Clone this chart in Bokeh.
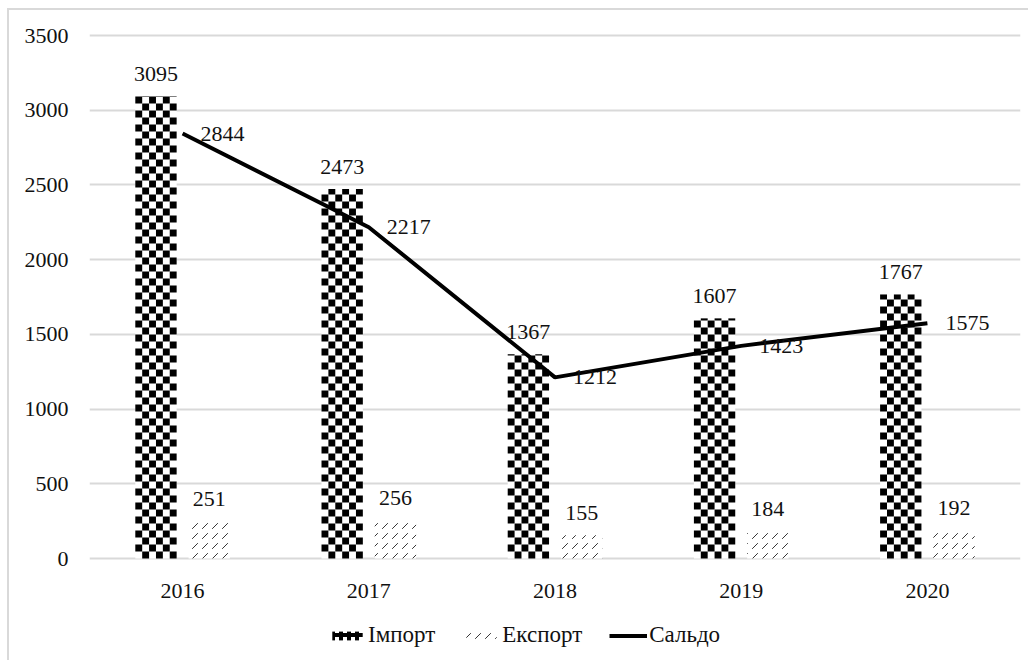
import math
from bokeh.plotting import figure
from bokeh.models import (ColumnDataSource, FactorRange, Range1d, Legend, LegendItem,
                          LabelSet, FixedTicker)
from bokeh.transform import dodge
from bokeh.core.properties import value
from bokeh.embed import file_html
from bokeh.resources import INLINE

years = ["2016", "2017", "2018", "2019", "2020"]
imports = [3095, 2473, 1367, 1607, 1767]
exports = [251, 256, 155, 184, 192]
saldo = [2844, 2217, 1212, 1423, 1575]
y_ticks = [0, 500, 1000, 1500, 2000, 2500, 3000, 3500]
series_names = ["Імпорт", "Експорт", "Сальдо"]

FONT = "Liberation Serif"
TXT = "#111111"
GRID = "#d9d9d9"

# layout (figure pixels)
W, H = 1021, 652
FL, FR, FT = 80, 1011, 23          # frame left / right / top
Y0_PX, Y3500_PX = 548, 25          # pixel rows of y=0 and y=3500
S = (Y0_PX - Y3500_PX) / 3500.0    # px per unit
y_end = 3500 + (Y3500_PX - FT) / S
y_start = -(H - Y0_PX) / S

src = ColumnDataSource(dict(
    year=years, imp=imports, exp=exports, sal=saldo,
    zero=[0] * len(years),
    imp_t=[str(v) for v in imports],
    exp_t=[str(v) for v in exports],
    sal_t=[str(v) for v in saldo],
))

p = figure(
    x_range=FactorRange(*years, range_padding=0),
    y_range=Range1d(y_start, y_end),
    width=W, height=H,
    output_backend="svg", toolbar_location=None,
    min_border_left=FL, min_border_right=W - FR, min_border_top=FT, min_border_bottom=0,
)
p.outline_line_color = None
p.styles = {"margin-left": "7px", "margin-top": "8px",
            "border-left": "2px solid #d9d9d9", "border-top": "2px solid #d9d9d9"}

bw = 0.222
off = 0.143

# import bars: white body + checkerboard cells derived from the values
r_imp = p.vbar(x=dodge("year", -off, range=p.x_range), top="imp", width=bw, source=src,
               fill_color="white", line_color=None)
cell_h = 7 / S
ncols = 6
cw = bw / ncols
cx, cb, ct = [], [], []
for i, h in enumerate(imports):
    left = i + 0.5 - off - bw / 2
    nrows = math.ceil(h / cell_h)
    for r in range(nrows):
        for c in range(ncols):
            if (r + c) % 2 == 1:
                cx.append(left + (c + 0.5) * cw)
                cb.append(r * cell_h)
                ct.append(min((r + 1) * cell_h, h))
r_cells = p.vbar(x=cx, bottom=cb, top=ct, width=cw, fill_color="black", line_color=None)

r_exp = p.vbar(x=dodge("year", off, range=p.x_range), top="exp", width=bw, source=src,
               fill_color="white", line_color=None,
               hatch_pattern="right_diagonal_dash", hatch_scale=10, hatch_weight=1,
               hatch_color="#333333")
r_sal = p.line(x="year", y="sal", source=src, line_color="black", line_width=4)

# zero-height renderer only used for the import legend swatch
r_imp_leg = p.vbar(x=[years[0]], top=[0], width=0, fill_color="white", line_color=None,
                   hatch_pattern="cross", hatch_scale=8, hatch_weight=4, hatch_color="black")

lab_kw = dict(source=src, text_font=value(FONT), text_font_size="22px", text_color=TXT)
p.add_layout(LabelSet(x=dodge("year", -off, range=p.x_range), y="imp", text="imp_t",
                      text_align="center", text_baseline="alphabetic", y_offset=15, **lab_kw))
p.add_layout(LabelSet(x=dodge("year", off, range=p.x_range), y="exp", text="exp_t",
                      text_align="center", text_baseline="alphabetic", y_offset=15, **lab_kw))
p.add_layout(LabelSet(x="year", y="sal", text="sal_t",
                      text_align="left", text_baseline="middle", x_offset=18, **lab_kw))
# category labels
p.add_layout(LabelSet(x="year", y="zero", text="year",
                      text_align="center", text_baseline="middle", y_offset=-32, **lab_kw))

p.xaxis.visible = False
p.yaxis.ticker = FixedTicker(ticks=y_ticks)
p.yaxis.axis_line_color = None
p.yaxis.major_tick_line_color = None
p.yaxis.minor_tick_line_color = None
p.yaxis.major_tick_in = 0
p.yaxis.major_tick_out = 0
p.yaxis.major_label_standoff = 21
p.yaxis.major_label_text_font = FONT
p.yaxis.major_label_text_font_size = "22px"
p.yaxis.major_label_text_color = TXT

p.xgrid.grid_line_color = None
p.ygrid.ticker = FixedTicker(ticks=y_ticks)
p.ygrid.grid_line_color = GRID
p.ygrid.grid_line_width = 2
p.ygrid.level = "underlay"

legend = Legend(items=[
    LegendItem(label=series_names[0], renderers=[r_imp_leg]),
    LegendItem(label=series_names[1], renderers=[r_exp]),
    LegendItem(label=series_names[2], renderers=[r_sal]),
], orientation="horizontal", location=(239, 14),
    label_text_font=FONT, label_text_font_size="23px", label_text_color=TXT,
    glyph_width=38, glyph_height=11, label_standoff=2, spacing=27,
    border_line_color=None, background_fill_alpha=0, padding=4, margin=0)
p.add_layout(legend, "center")

open("out.html", "w").write(file_html(p, INLINE))
